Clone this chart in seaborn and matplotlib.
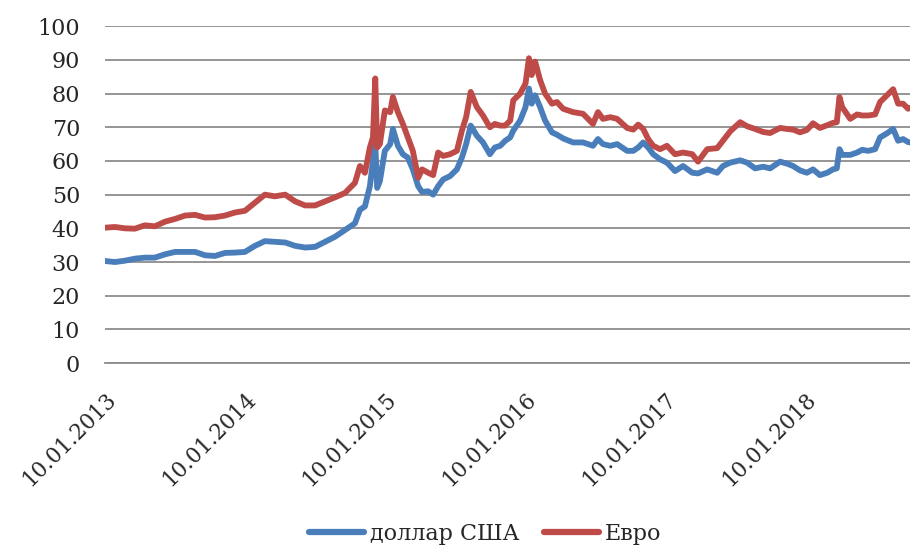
import pandas as pd
import seaborn as sns
import matplotlib
matplotlib.use("Agg")
import matplotlib.pyplot as plt
import matplotlib.dates as mdates

sns.set_style("white")
plt.rcParams['font.family'] = ['DejaVu Serif']

dates = [
    "2013-01-10", "2013-02-05", "2013-03-03", "2013-03-29", "2013-04-24", "2013-05-20",
    "2013-06-16", "2013-07-12", "2013-08-07", "2013-09-02", "2013-09-28", "2013-10-24",
    "2013-11-19", "2013-12-15", "2014-01-10", "2014-02-05", "2014-03-03", "2014-03-29",
    "2014-04-25", "2014-05-21", "2014-06-16", "2014-07-12", "2014-08-07", "2014-09-02",
    "2014-09-28", "2014-10-11", "2014-10-24", "2014-11-06", "2014-11-19", "2014-12-02",
    "2014-12-10", "2014-12-16", "2014-12-21", "2014-12-28", "2015-01-10", "2015-01-24",
    "2015-01-31", "2015-02-13", "2015-02-26", "2015-03-11", "2015-03-24", "2015-04-07",
    "2015-04-17", "2015-05-03", "2015-05-16", "2015-05-29", "2015-06-11", "2015-06-29",
    "2015-07-17", "2015-07-30", "2015-08-10", "2015-08-22", "2015-09-07", "2015-09-23",
    "2015-10-11", "2015-10-24", "2015-11-07", "2015-11-20", "2015-12-03", "2015-12-11",
    "2015-12-29", "2016-01-12", "2016-01-21", "2016-01-28", "2016-02-06", "2016-02-19",
    "2016-03-03", "2016-03-21", "2016-04-03", "2016-04-19", "2016-05-15", "2016-06-10",
    "2016-07-06", "2016-07-19", "2016-08-01", "2016-08-20", "2016-09-07", "2016-10-03",
    "2016-10-19", "2016-11-01", "2016-11-14", "2016-11-27", "2016-12-10", "2016-12-28",
    "2017-01-15", "2017-02-05", "2017-02-26", "2017-03-22", "2017-04-06", "2017-04-30",
    "2017-05-26", "2017-06-10", "2017-06-29", "2017-07-25", "2017-08-12", "2017-09-02",
    "2017-09-23", "2017-10-11", "2017-11-06", "2017-11-24", "2017-12-10", "2017-12-28",
    "2018-01-15", "2018-01-31", "2018-02-18", "2018-03-09", "2018-03-24", "2018-04-03",
    "2018-04-10", "2018-04-17", "2018-05-08", "2018-05-26", "2018-06-08", "2018-06-24",
    "2018-07-12", "2018-07-25", "2018-08-12", "2018-08-28", "2018-09-10", "2018-09-23",
    "2018-10-06", "2018-10-11",
]

usd = [
    30.3, 30.0, 30.4, 31.0, 31.3, 31.3,
    32.3, 33.0, 33.0, 33.0, 32.0, 31.8,
    32.7, 32.8, 33.0, 34.8, 36.2, 36.0,
    35.8, 34.8, 34.3, 34.5, 36.0, 37.5,
    39.5, 40.5, 41.5, 45.5, 46.5, 52.5,
    60.0, 65.0, 52.0, 54.0, 63.0, 65.0,
    69.5, 64.5, 62.0, 61.0, 57.5, 52.5,
    50.8, 51.0, 50.0, 52.5, 54.5, 55.5,
    57.5, 61.0, 65.0, 70.5, 67.5, 65.5,
    62.0, 64.0, 64.5, 66.0, 67.0, 69.0,
    72.0, 76.0, 81.5, 77.0, 79.5, 76.0,
    72.0, 68.5, 67.8, 66.7, 65.5, 65.5,
    64.5, 66.5, 65.0, 64.5, 65.0, 63.0,
    63.0, 64.0, 65.5, 64.0, 62.0, 60.5,
    59.5, 57.0, 58.5, 56.5, 56.3, 57.5,
    56.5, 58.5, 59.5, 60.2, 59.5, 57.8,
    58.3, 57.8, 59.8, 59.2, 58.5, 57.2,
    56.5, 57.5, 55.8, 56.5, 57.5, 57.8,
    63.5, 61.8, 61.8, 62.5, 63.3, 63.0,
    63.5, 67.0, 68.2, 69.5, 66.0, 66.5,
    65.6, 65.5,
]

eur = [
    40.2, 40.4, 40.0, 39.9, 40.9, 40.6,
    42.0, 42.8, 43.8, 44.0, 43.2, 43.3,
    43.8, 44.7, 45.2, 47.6, 50.0, 49.5,
    50.0, 48.0, 46.8, 46.8, 48.0, 49.2,
    50.5, 52.0, 53.5, 58.5, 56.5, 64.0,
    67.0, 84.5, 64.0, 65.0, 75.0, 74.5,
    79.0, 74.5, 71.0, 67.0, 63.0, 55.0,
    57.5, 56.5, 55.8, 62.5, 61.5, 62.0,
    63.0, 69.0, 73.0, 80.5, 76.0, 73.5,
    70.0, 71.0, 70.5, 70.5, 72.0, 78.0,
    80.0, 83.0, 90.5, 85.5, 89.5, 84.0,
    80.0, 77.0, 77.5, 75.5, 74.5, 74.0,
    71.0, 74.5, 72.5, 73.0, 72.5, 69.8,
    69.3, 70.8, 69.5, 66.5, 64.5, 63.5,
    64.5, 62.0, 62.5, 62.0, 59.8, 63.5,
    63.8, 66.0, 68.8, 71.5, 70.3, 69.5,
    68.6, 68.3, 69.8, 69.5, 69.3, 68.5,
    69.2, 71.2, 69.8, 70.6, 71.3, 71.5,
    79.0, 76.0, 72.5, 73.8, 73.5, 73.5,
    73.8, 77.5, 79.5, 81.3, 77.0, 77.0,
    75.5, 75.8,
]

series_names = ["доллар США", "Евро"]
colors = ["#4A7EBB", "#BE4B48"]
tick_dates = ["2013-01-10", "2014-01-10", "2015-01-10", "2016-01-10", "2017-01-10", "2018-01-10"]

df = pd.DataFrame({"date": pd.to_datetime(dates), series_names[0]: usd, series_names[1]: eur})
long_df = df.melt(id_vars="date", var_name="валюта", value_name="курс")

fig = plt.figure(figsize=(9.1, 5.46), dpi=100)
ax = fig.add_axes([0.1154, 0.335, 0.8846, 0.617])

sns.lineplot(data=long_df, x="date", y="курс", hue="валюта", hue_order=series_names,
             palette=colors, linewidth=4.2, ax=ax, legend=False)

ax.set_ylim(0, 100)
ax.set_yticks(range(0, 101, 10))
ax.set_xlim(df["date"].iloc[0], df["date"].iloc[-1])
ax.set_xticks(pd.to_datetime(tick_dates))
ax.xaxis.set_major_formatter(mdates.DateFormatter("%d.%m.%Y"))
ax.set_xlabel("")
ax.set_ylabel("")

ax.grid(axis="y", color="#8C8C8C", linewidth=1.3)
ax.set_axisbelow(True)
for s in ["top", "right", "left"]:
    ax.spines[s].set_visible(False)
ax.spines["bottom"].set_color("#8C8C8C")
ax.spines["bottom"].set_linewidth(1.3)

ax.tick_params(axis="y", length=0, pad=18, labelsize=16)
ax.tick_params(axis="x", length=0, pad=18, labelsize=15.5)
for lbl in ax.get_xticklabels():
    lbl.set_rotation(45)
    lbl.set_ha("right")
    lbl.set_va("top")
    lbl.set_rotation_mode("anchor")

handles = [plt.Line2D([], [], color=c, linewidth=4.5, solid_capstyle="round") for c in colors]
fig.legend(handles, series_names, loc="center", bbox_to_anchor=(0.533, 0.022), ncol=2,
           frameon=False, fontsize=16, handlelength=2.5, handletextpad=0.25, columnspacing=1.1)

fig.savefig("out.png", dpi=100)
